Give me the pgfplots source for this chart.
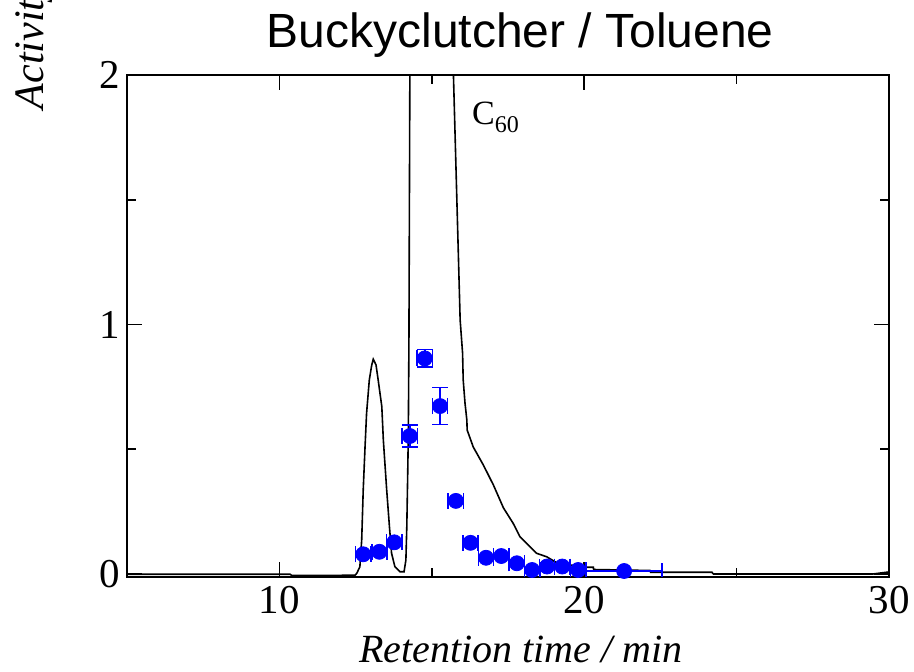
\documentclass[border=0pt]{standalone}
\usepackage{fontspec}
\setmainfont{Liberation Serif}
\newfontfamily\titlefont{Liberation Sans}
\usepackage{pgfplots}
\usepackage{pgfplotstable}
\pgfplotsset{compat=1.18}

\pgfplotstableread{
x y
5.00 -0.001
10.35 -0.001
10.41 -0.006
12.48 -0.005
12.54 0.003
12.64 0.029
12.70 0.136
12.75 0.337
12.81 0.510
12.86 0.644
12.95 0.778
13.03 0.838
13.08 0.861
13.17 0.838
13.24 0.778
13.36 0.671
13.41 0.537
13.52 0.337
13.61 0.190
13.68 0.083
13.79 0.029
13.96 0.009
14.09 0.009
14.15 0.056
14.18 0.190
14.21 0.404
14.23 0.564
14.25 0.938
14.28 2.000
14.35 2.800
14.60 3.400
14.90 3.500
15.30 3.000
15.60 2.300
15.71 2.000
15.93 1.018
16.01 0.885
16.03 0.778
16.09 0.684
16.15 0.617
16.16 0.577
16.36 0.509
16.69 0.437
17.02 0.357
17.35 0.265
17.67 0.203
17.89 0.150
18.00 0.136
18.33 0.096
18.44 0.083
18.77 0.069
19.10 0.045
19.30 0.040
20.08 0.027
20.30 0.027
20.31 0.018
22.16 0.014
22.18 0.007
24.19 0.007
24.24 0.000
29.47 0.000
29.98 0.008
30.00 0.008
}\chromatogram

\pgfplotstableread{
x y ex ey
12.75 0.079 0.25 0.008
13.28 0.089 0.25 0.008
13.77 0.127 0.25 0.010
14.28 0.553 0.25 0.045
14.77 0.864 0.25 0.035
15.27 0.673 0.25 0.074
15.79 0.293 0.25 0.010
16.27 0.125 0.25 0.008
16.78 0.065 0.25 0.005
17.28 0.072 0.25 0.005
17.79 0.043 0.25 0.005
18.29 0.016 0.25 0.003
18.78 0.030 0.25 0.003
19.28 0.030 0.25 0.003
19.80 0.016 0.25 0.003
21.31 0.012 1.24 0.002
}\activity

\begin{document}
\begin{tikzpicture}
\begin{scope}
\clip (-63.5pt,-47.5pt) rectangle (393.5pt,288.5pt);
\begin{axis}[
  scale only axis,
  width=381pt, height=251pt,
  xmin=5, xmax=30, ymin=-0.012, ymax=2,
  xtick={10,20,30}, minor xtick={15,25},
  ytick={0,1,2}, minor ytick={0.5,1.5},
  tick align=inside,
  major tick length=7.5pt, minor tick length=4.5pt,
  axis line style={line width=1pt},
  every tick/.style={black, line width=0.8pt},
  /pgf/number format/assume math mode=true,
  tick label style={font=\fontsize{20.5}{24}\selectfont},
  xticklabel style={yshift=-1pt},
  title={Buckyclutcher / Toluene},
  title style={font=\titlefont\fontsize{24}{28}\selectfont, at={(axis description cs:0.516,1)}, anchor=base, yshift=7.5pt},
  xlabel={Retention time / min},
  xlabel style={font=\itshape\fontsize{20}{24}\selectfont, at={(axis description cs:0.517,0)}, anchor=base, yshift=-43pt},
  ylabel={Activity / a.u.},
  ylabel style={font=\itshape\fontsize{21}{24}\selectfont, at={(axis description cs:-0.1102,0.918)}, anchor=base west},
  clip=true,
]
\addplot[black, line width=0.8pt] table[x=x, y=y] {\chromatogram};
\addplot[only marks, mark=*, mark size=3.75pt, color=blue, fill=blue,
  error bars/.cd, x dir=both, x explicit, y dir=both, y explicit,
  error bar style={line width=0.8pt, blue},
  error mark options={rotate=90, mark size=4pt, line width=0.8pt, blue}]
  table[x=x, y=y, x error=ex, y error=ey] {\activity};
\node[anchor=base west, font=\fontsize{17}{20}\selectfont, inner sep=0pt] at (axis cs:16.31,1.80) {C\raisebox{-3.9pt}{\fontsize{12}{14}\selectfont 60}};
\end{axis}
\end{scope}
\pgfresetboundingbox
\path[use as bounding box] (-63.5pt,-47.5pt) rectangle (393.5pt,288.5pt);
\end{tikzpicture}
\end{document}
